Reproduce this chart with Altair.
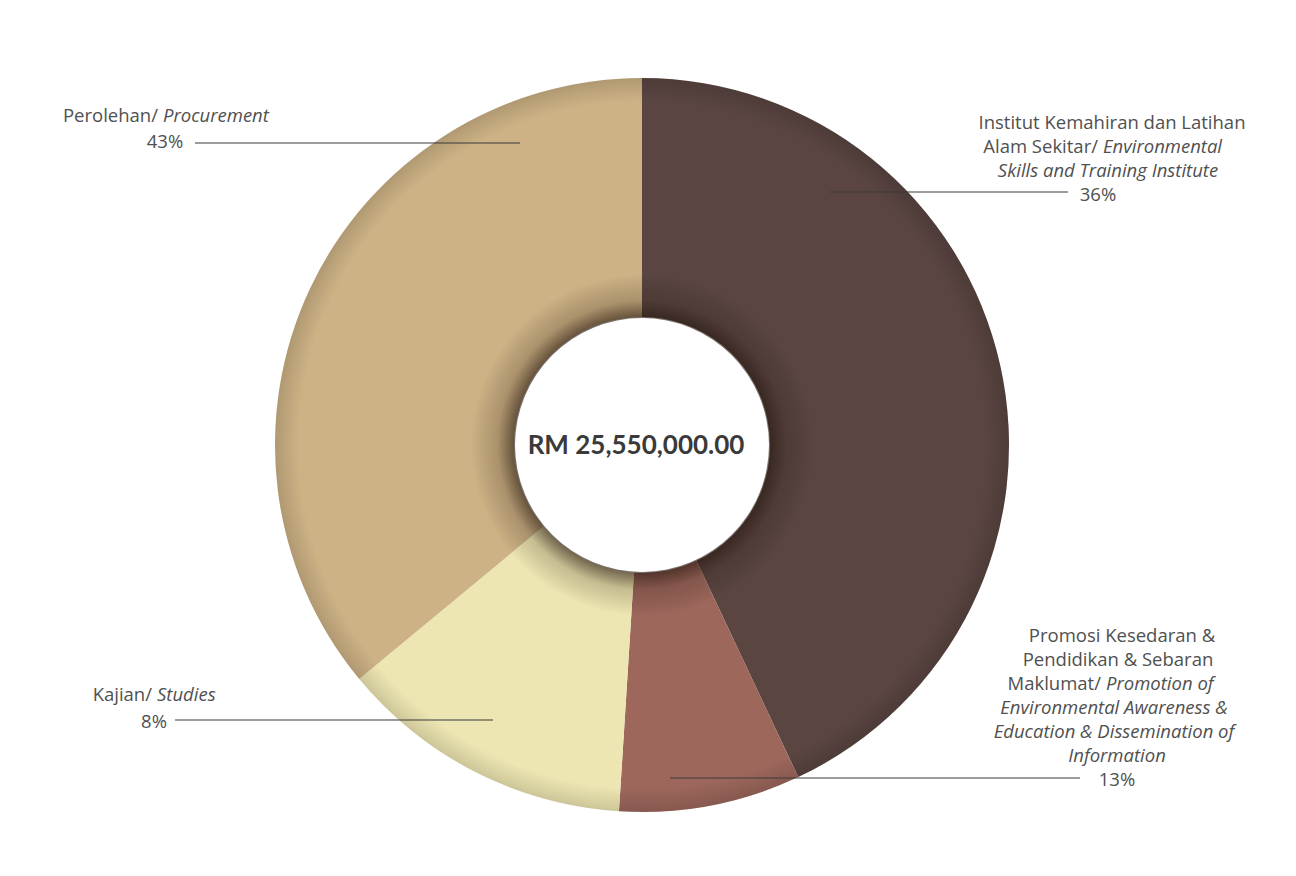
import altair as alt
import pandas as pd

# ---- data ----
categories = [
    "Institut Kemahiran dan Latihan Alam Sekitar",
    "Promosi Kesedaran & Pendidikan & Sebaran Maklumat",
    "Kajian",
    "Perolehan",
]
slice_share = [43, 8, 13, 36]          # arc sizes as drawn (clockwise from 12 o'clock)
percent_labels = ["36%", "13%", "8%", "43%"]  # printed percentages
slice_colors = ["#5a4541", "#9d675c", "#eee6b2", "#cdb285"]
total_label = "RM 25,550,000.00"

df = pd.DataFrame({"cat": categories, "share": slice_share, "order": list(range(4))})

W, H = 1280, 860
CX, CY = 634, 437
R_OUT, R_IN = 367, 128
FONT = "Open Sans"
TXT = "#505050"

donut = alt.Chart(df).mark_arc(outerRadius=R_OUT, innerRadius=R_IN).encode(
    theta=alt.Theta("share:Q", stack=True),
    order=alt.Order("order:Q"),
    color=alt.Color("cat:N", scale=alt.Scale(domain=categories, range=slice_colors), legend=None),
    x=alt.value(CX),
    y=alt.value(CY),
)

shade = alt.Chart(pd.DataFrame({"k": [1]})).mark_arc(
    outerRadius=R_OUT, innerRadius=R_IN - 1, theta=0, theta2=6.2832,
    fill=alt.RadialGradient(
        gradient="radial",
        x1=0.5, y1=0.5, r1=R_IN / (2 * R_OUT),
        x2=0.5, y2=0.5, r2=0.5,
        stops=[
            alt.GradientStop(color="rgba(35,20,12,0.6)", offset=0),
            alt.GradientStop(color="rgba(35,20,12,0.2)", offset=0.07),
            alt.GradientStop(color="rgba(0,0,0,0)", offset=0.18),
            alt.GradientStop(color="rgba(0,0,0,0)", offset=0.9),
            alt.GradientStop(color="rgba(0,0,0,0.14)", offset=1),
        ],
    ),
).encode(x=alt.value(CX), y=alt.value(CY))

# ---- text layout (page coordinates minus the 8px margin) ----
def P(v):
    return v - 8

pieces = [
    # text, x, y, italic, align
    ("Perolehan/", 158, 122, False, "right"),
    ("Procurement", 163, 122, True, "left"),
    (percent_labels[3], 165, 148, False, "center"),
    ("Institut Kemahiran dan Latihan", 1112, 129, False, "center"),
    ("Alam Sekitar/", 1098, 153, False, "right"),
    ("Environmental", 1103, 153, True, "left"),
    ("Skills and Training Institute", 1108, 177, True, "center"),
    (percent_labels[0], 1098, 201, False, "center"),
    ("Promosi Kesedaran &", 1122, 642, False, "center"),
    ("Pendidikan & Sebaran", 1118, 666, False, "center"),
    ("Maklumat/", 1101, 690, False, "right"),
    ("Promotion of", 1106, 690, True, "left"),
    ("Environmental Awareness &", 1114, 714, True, "center"),
    ("Education & Dissemination of", 1114, 738, True, "center"),
    ("Information", 1117, 762, True, "center"),
    (percent_labels[1], 1117, 786, False, "center"),
    ("Kajian/", 152, 701, False, "right"),
    ("Studies", 157, 701, True, "left"),
    (percent_labels[2], 154, 728, False, "center"),
]
tdf = pd.DataFrame(
    [{"t": t, "px": P(x), "py": P(y), "it": it, "al": al} for t, x, y, it, al in pieces]
)

text_layers = []
for it in (False, True):
    for al in ("left", "center", "right"):
        sub = tdf[(tdf.it == it) & (tdf.al == al)]
        if len(sub) == 0:
            continue
        text_layers.append(
            alt.Chart(sub).mark_text(
                font=FONT, fontSize=18.5, color=TXT, align=al, baseline="alphabetic",
                fontStyle="italic" if it else "normal",
            ).encode(
                x=alt.X("px:Q", scale=None, axis=None),
                y=alt.Y("py:Q", scale=None, axis=None),
                text="t:N",
            )
        )

center_text = alt.Chart(pd.DataFrame({"t": [total_label]})).mark_text(
    font="Lato", fontSize=26, fontWeight="bold", color="#3a3a3a", align="center", baseline="alphabetic",
).encode(x=alt.value(P(636)), y=alt.value(P(454)), text="t:N")

leaders = [(195, 520, 143), (830, 1068, 192), (670, 1080, 778), (175, 493, 720)]
ldf = pd.DataFrame([{"a": P(a), "b": P(b), "y": P(y)} for a, b, y in leaders])
rules = alt.Chart(ldf).mark_rule(color="#3a3a3a", strokeWidth=1.2).encode(
    x=alt.X("a:Q", scale=None, axis=None),
    x2="b:Q",
    y=alt.Y("y:Q", scale=None, axis=None),
)

chart = alt.layer(donut, shade, rules, center_text, *text_layers).properties(
    width=W, height=H, padding=0,
    autosize=alt.AutoSizeParams(type="fit", contains="padding"),
    background="white",
).configure_view(stroke=None)

chart.save("out.html", embed_options={"renderer": "svg", "actions": False})
